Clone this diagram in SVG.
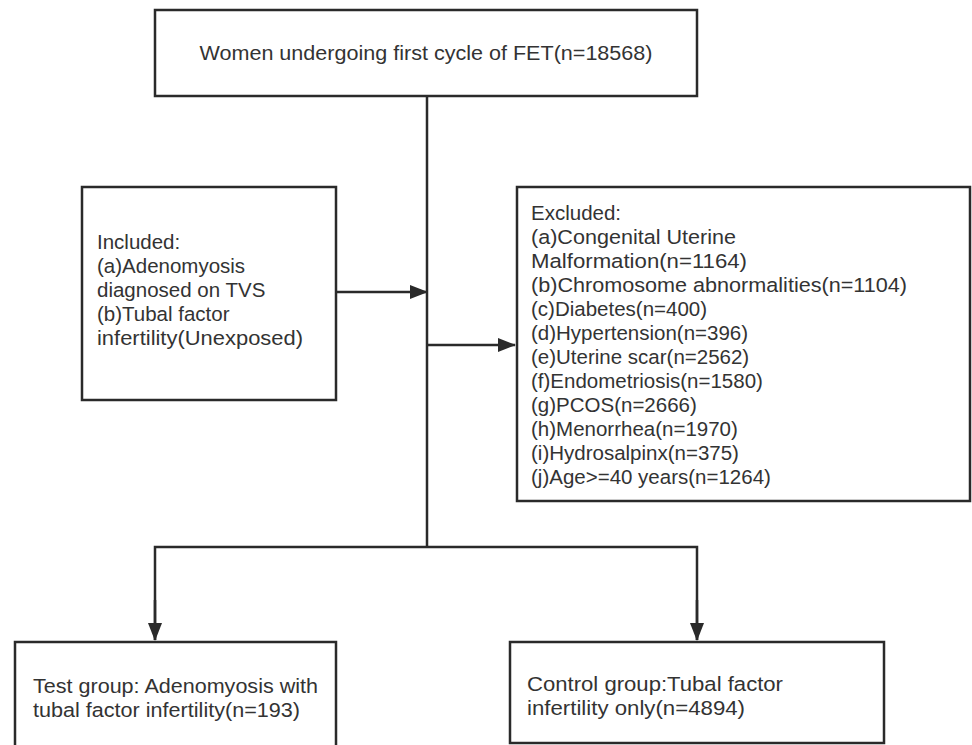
<svg xmlns="http://www.w3.org/2000/svg" width="972" height="745" viewBox="0 0 972 745">
<defs>
<marker id="arr" markerWidth="18" markerHeight="14" refX="17" refY="7" orient="auto" markerUnits="userSpaceOnUse">
<path d="M0,0 L18,7 L0,14 z" fill="#2a2a2a"/>
</marker>
</defs>
<style>
.box{fill:#fff;stroke:#2a2a2a;stroke-width:2.5}
.t{font-family:"Liberation Sans",Arial,sans-serif;font-size:20.5px;fill:#333}
.c{fill:none;stroke:#2a2a2a;stroke-width:2.5}
</style>
<rect width="972" height="745" fill="#fff"/>
<g id="connectors">
<line class="c" x1="427" y1="96" x2="427" y2="547"/>
<line class="c" x1="336" y1="292" x2="427" y2="292" marker-end="url(#arr)"/>
<line class="c" x1="427" y1="345" x2="515" y2="345" marker-end="url(#arr)"/>
<polyline class="c" points="155,640 155,547 697,547 697,640"/>
<line class="c" x1="155" y1="600" x2="155" y2="640" marker-end="url(#arr)"/>
<line class="c" x1="697" y1="600" x2="697" y2="640" marker-end="url(#arr)"/>
</g>
<g id="top">
<rect class="box" x="155" y="10" width="542" height="86"/>
<text class="t" x="426" y="60" text-anchor="middle" textLength="453" lengthAdjust="spacingAndGlyphs">Women undergoing first cycle of FET(n=18568)</text>
</g>
<g id="included">
<rect class="box" x="82" y="187" width="254" height="213"/>
<text class="t" x="97" y="249">Included:</text>
<text class="t" x="97" y="273">(a)Adenomyosis</text>
<text class="t" x="97" y="297">diagnosed on TVS</text>
<text class="t" x="97" y="321">(b)Tubal factor</text>
<text class="t" x="97" y="345" textLength="206" lengthAdjust="spacingAndGlyphs">infertility(Unexposed)</text>
</g>
<g id="excluded">
<rect class="box" x="517" y="187" width="453" height="314"/>
<text class="t" x="531" y="220">Excluded:</text>
<text class="t" x="531" y="244" textLength="205" lengthAdjust="spacingAndGlyphs">(a)Congenital Uterine</text>
<text class="t" x="531" y="268" textLength="216" lengthAdjust="spacingAndGlyphs">Malformation(n=1164)</text>
<text class="t" x="531" y="292" textLength="376" lengthAdjust="spacingAndGlyphs">(b)Chromosome abnormalities(n=1104)</text>
<text class="t" x="531" y="316">(c)Diabetes(n=400)</text>
<text class="t" x="531" y="340">(d)Hypertension(n=396)</text>
<text class="t" x="531" y="364">(e)Uterine scar(n=2562)</text>
<text class="t" x="531" y="388">(f)Endometriosis(n=1580)</text>
<text class="t" x="531" y="412">(g)PCOS(n=2666)</text>
<text class="t" x="531" y="436">(h)Menorrhea(n=1970)</text>
<text class="t" x="531" y="460">(i)Hydrosalpinx(n=375)</text>
<text class="t" x="531" y="484">(j)Age&gt;=40 years(n=1264)</text>
</g>
<g id="test">
<rect class="box" x="15" y="642" width="321" height="110"/>
<text class="t" x="33" y="693" textLength="285" lengthAdjust="spacingAndGlyphs">Test group: Adenomyosis with</text>
<text class="t" x="33" y="717" textLength="267" lengthAdjust="spacingAndGlyphs">tubal factor infertility(n=193)</text>
</g>
<g id="control">
<rect class="box" x="510" y="642" width="374" height="101"/>
<text class="t" x="527" y="691" textLength="256" lengthAdjust="spacingAndGlyphs">Control group:Tubal factor</text>
<text class="t" x="527" y="715" textLength="218" lengthAdjust="spacingAndGlyphs">infertility only(n=4894)</text>
</g>
</svg>
